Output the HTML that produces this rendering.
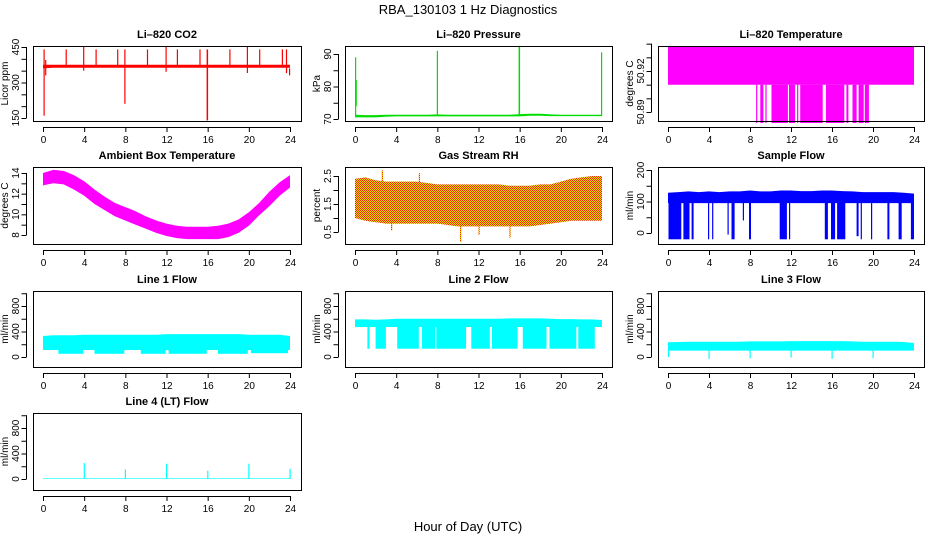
<!DOCTYPE html>
<html><head><meta charset="utf-8"><style>
body{margin:0;background:#fff;}
svg{display:block;font-family:"Liberation Sans",sans-serif;}
</style></head><body>
<svg id="c" width="936" height="540" viewBox="0 0 936 540" xmlns="http://www.w3.org/2000/svg">
<defs>
<pattern id="rh" width="2" height="2" patternUnits="userSpaceOnUse"><rect width="2" height="2" fill="#ffd800"/><rect width="1" height="1" fill="#e03000"/><rect x="1" y="1" width="1" height="1" fill="#e03000"/></pattern>
</defs>
<text x="468" y="14" font-size="13" text-anchor="middle">RBA_130103  1 Hz Diagnostics</text>
<text x="468" y="531" font-size="13" text-anchor="middle">Hour of Day (UTC)</text>
</svg>
<script>
const xTicks=[0,4,8,12,16,20,24];
// envelope arrays (hourly, 0..24): lower and upper
const co2Lo=[360,362,362,362,362,362,362,362,362,362,362,362,362,362,362,362,362,362,362,362,362,362,362,362,362];
const co2Hi=[375,375,375,375,375,375,375,375,375,375,375,375,375,375,375,375,375,375,375,375,375,375,375,375,375];
const co2Spikes=[[0.05,0.1,160,440],[0.2,0.25,330,395],[2.2,2.3,370,440],[3.9,4.0,350,450],[5.1,5.2,370,440],[7.2,7.3,370,440],[7.9,8.0,210,440],[10.1,10.2,370,440],[11.9,12.0,345,450],[13.0,13.1,370,440],[15.2,15.3,370,440],[15.9,16.05,140,440],[18.1,18.2,370,440],[19.8,19.9,340,450],[21.0,21.1,370,440],[23.2,23.3,370,440],[23.6,23.7,340,440],[23.9,24,330,360]];
const presLo=[70.5,70.5,70.5,70.7,70.8,70.8,70.8,70.8,70.8,70.8,70.8,70.8,70.8,70.8,70.8,70.8,70.8,71,71,70.9,70.9,70.9,70.9,70.9,70.9];
const presHi=[71.3,71.2,71.2,71.3,71.3,71.3,71.3,71.3,71.4,71.3,71.3,71.3,71.3,71.3,71.3,71.3,71.5,71.6,71.6,71.4,71.3,71.3,71.3,71.3,71.3];
const presSpikes=[[0,0.06,71,89],[0.06,0.1,74,82],[7.95,8.05,71,91],[15.9,16.05,71,92.5],[23.9,24,71,90.5]];
const tempLo=Array(25).fill(50.91);
const tempHi=Array(25).fill(50.938);
const tempSpikes=[[8.6,8.7,50.882,50.91],[9.0,9.3,50.882,50.91],[9.5,9.6,50.882,50.91],[10.1,11.7,50.882,50.91],[11.8,12.4,50.882,50.91],[12.6,12.7,50.882,50.91],[12.9,15.1,50.882,50.91],[15.4,17.2,50.882,50.91],[17.4,17.6,50.882,50.91],[18.0,18.4,50.882,50.91],[18.6,19.1,50.882,50.91],[19.2,19.6,50.882,50.91]];
const ambLo=[12.8,13.0,12.9,12.4,11.8,11.0,10.4,9.8,9.4,9.0,8.6,8.2,7.9,7.7,7.6,7.6,7.6,7.6,7.8,8.2,8.9,9.9,10.8,11.8,12.6];
const ambHi=[14.0,14.3,14.2,13.8,13.2,12.4,11.7,11.1,10.7,10.3,9.8,9.4,9.1,8.9,8.8,8.8,8.8,8.9,9.1,9.5,10.2,11.1,12.2,13.1,13.8];
const ambSpikes=[];
const rhLo=[1.0,0.9,0.85,0.8,0.8,0.8,0.8,0.8,0.8,0.75,0.7,0.7,0.7,0.7,0.7,0.7,0.7,0.7,0.75,0.8,0.85,0.9,0.9,0.9,0.9];
const rhHi=[2.4,2.45,2.35,2.3,2.3,2.3,2.3,2.25,2.2,2.2,2.2,2.2,2.2,2.2,2.2,2.15,2.15,2.15,2.2,2.2,2.3,2.4,2.45,2.5,2.5];
const rhSpikes=[[2.6,2.65,1.0,2.7],[6.2,6.25,1.0,2.6],[10.2,10.25,0.15,1.0],[12.0,12.1,0.4,1.0],[15.0,15.1,0.3,1.0],[3.5,3.6,0.55,1.0]];
const sfLo=Array(25).fill(95);
const sfHi=[128,130,132,130,132,130,132,132,135,132,132,135,135,133,133,135,135,133,132,130,130,130,130,128,125];
const sfSpikes=[[0.05,1.3,-20,100],[1.5,2.1,-20,100],[2.3,2.5,-20,100],[3.9,4.0,-20,100],[4.3,4.4,-20,100],[5.8,5.9,-5,100],[6.2,6.5,-20,100],[7.3,7.4,40,100],[7.9,8.1,-20,100],[10.9,11.6,-20,100],[11.8,11.9,-20,100],[15.3,15.6,-20,100],[15.9,16.3,-20,100],[16.5,17.3,-20,100],[18.4,18.6,-10,100],[18.8,18.9,-20,100],[19.8,19.9,-20,100],[21.4,21.6,-20,100],[22.5,22.8,-20,100],[23.7,24.0,-20,100]];
const l1Lo=Array(25).fill(110);
const l1Hi=[330,340,340,340,350,350,350,350,350,350,350,350,360,360,360,360,360,360,360,360,350,350,350,350,330];
const l1Spikes=[[1.5,3.9,50,110],[5.0,7.9,50,110],[9.5,11.9,50,110],[12.2,15.9,50,110],[17.0,19.9,50,110],[20.2,23.8,60,110]];
const l2Lo=Array(25).fill(470);
const l2Hi=[590,590,585,590,600,600,600,600,600,600,600,600,600,600,600,605,605,605,605,600,595,595,590,590,580];
const l2Spikes=[[1.2,1.4,130,470],[2.0,3.0,130,470],[4.1,6.2,130,470],[6.5,7.8,130,470],[7.9,10.8,130,470],[11.3,13.1,130,470],[13.3,15.8,130,470],[16.3,18.6,130,470],[18.9,21.5,130,470],[21.7,23.3,130,470]];
const l3Lo=Array(25).fill(100);
const l3Hi=[230,235,240,240,240,240,240,240,245,245,245,245,250,250,250,250,250,250,245,240,240,240,240,235,220];
const l3Spikes=[[0,0.05,0,130],[3.95,4.05,-30,100],[7.95,8.05,-20,100],[11.95,12.05,-10,100],[15.95,16.05,-30,100],[19.95,20.05,-20,100]];
const l4Lo=Array(25).fill(0);
const l4Hi=Array(25).fill(10);
const l4Spikes=[[3.95,4.05,0,250],[7.95,8.05,0,150],[11.95,12.05,0,240],[15.95,16.05,0,130],[19.95,20.05,0,240],[23.95,24,0,160]];

const svg=document.getElementById('c');
const NS='http://www.w3.org/2000/svg';
function mk(t,a,p){const e=document.createElementNS(NS,t);for(const k in a)e.setAttribute(k,a[k]);(p||svg).appendChild(e);return e;}
const cols=[[33,301,43,290],[345,612,355,602],[658,924,668,914]];
const rows=[[46,121],[167,244],[291,367],[413,490]];
const panels=[
 {name:'li820-co2',title:'Li\u2013820 CO2',yl:'Licor ppm',c:0,r:0,v1:450,p1:47,v2:150,p2:118,ticks:[150,200,250,300,350,400,450],labs:['150','300','450'],lo:co2Lo,hi:co2Hi,sp:co2Spikes,col:'#ff0000'},
 {name:'li820-pressure',title:'Li\u2013820 Pressure',yl:'kPa',c:1,r:0,v1:90,p1:54,v2:70,p2:119,ticks:[70,75,80,85,90],labs:['70','80','90'],lo:presLo,hi:presHi,sp:presSpikes,col:'#00dd00'},
 {name:'li820-temperature',title:'Li\u2013820 Temperature',yl:'degrees C',c:2,r:0,v1:50.92,p1:71,v2:50.89,p2:112,ticks:[50.89,50.90,50.91,50.92,50.93,50.94],labs:['50.89','50.92'],lo:tempLo,hi:tempHi,sp:tempSpikes,col:'#ff00ff'},
 {name:'ambient-box-temperature',title:'Ambient Box Temperature',yl:'degrees C',c:0,r:1,v1:14,p1:173,v2:8,p2:235,ticks:[8,9,10,11,12,13,14],labs:['8','10','12','14'],lo:ambLo,hi:ambHi,sp:ambSpikes,col:'#ff00ff'},
 {name:'gas-stream-rh',title:'Gas Stream RH',yl:'percent',c:1,r:1,v1:2.5,p1:176,v2:0.5,p2:232,ticks:[0.5,1,1.5,2,2.5],labs:['0.5','1.5','2.5'],lo:rhLo,hi:rhHi,sp:rhSpikes,col:'url(#rh)'},
 {name:'sample-flow',title:'Sample Flow',yl:'ml/min',c:2,r:1,v1:200,p1:170,v2:0,p2:233,ticks:[0,50,100,150,200],labs:['0','100','200'],lo:sfLo,hi:sfHi,sp:sfSpikes,col:'#0000ff'},
 {name:'line1-flow',title:'Line 1 Flow',yl:'ml/min',c:0,r:2,v1:800,p1:306,v2:0,p2:357,ticks:[0,200,400,600,800,1000],labs:['0','400','800'],lo:l1Lo,hi:l1Hi,sp:l1Spikes,col:'#00ffff'},
 {name:'line2-flow',title:'Line 2 Flow',yl:'ml/min',c:1,r:2,v1:800,p1:306,v2:0,p2:357,ticks:[0,200,400,600,800,1000],labs:['0','400','800'],lo:l2Lo,hi:l2Hi,sp:l2Spikes,col:'#00ffff'},
 {name:'line3-flow',title:'Line 3 Flow',yl:'ml/min',c:2,r:2,v1:800,p1:306,v2:0,p2:357,ticks:[0,200,400,600,800,1000],labs:['0','400','800'],lo:l3Lo,hi:l3Hi,sp:l3Spikes,col:'#00ffff'},
 {name:'line4-flow',title:'Line 4 (LT) Flow',yl:'ml/min',c:0,r:3,v1:800,p1:428,v2:0,p2:479,ticks:[0,200,400,600,800,1000],labs:['0','400','800'],lo:l4Lo,hi:l4Hi,sp:l4Spikes,col:'#00ffff'}
];
panels.forEach(P=>{
 const [bl,br,x0,x24]=cols[P.c],[bt,bb]=rows[P.r];
 const g=mk('g',{});
 
 
 const X=h=>x0+(x24-x0)*h/24;
 const Y=v=>P.p1+(P.p2-P.p1)*(v-P.v1)/(P.v2-P.v1);
 const cg=mk('g',{},g);
 let d='';
 for(let i=0;i<P.hi.length;i++)d+=(i?'L':'M')+X(i).toFixed(1)+','+Y(P.hi[i]).toFixed(1);
 for(let i=P.lo.length-1;i>=0;i--)d+='L'+X(i).toFixed(1)+','+Y(P.lo[i]).toFixed(1);
 const band=mk('path',{d:d+'Z',fill:P.col},cg);
 
 
 P.sp.forEach(s=>{
  const a=X(s[0]),b=X(s[1]);const w=Math.max(1.2,b-a);
  const r=mk('rect',{x:a.toFixed(1),y:Y(s[3]).toFixed(1),width:w.toFixed(1),height:Math.max(1,Y(s[2])-Y(s[3])).toFixed(1),fill:P.col},cg);
  
  
 });
 const box=mk('rect',{x:bl+.5,y:bt+.5,width:br-bl,height:bb-bt,fill:'none',stroke:'#000','stroke-width':1},g);
 
 
 const t=mk('text',{x:(bl+br)/2,y:bt-8,'font-size':11,'font-weight':'bold','text-anchor':'middle'},g);
 t.textContent=P.title;
 
 
 // x axis
 mk('line',{x1:X(0),x2:X(24),y1:bb+6.5,y2:bb+6.5,stroke:'#000'},g);
 xTicks.forEach(h=>{
  mk('line',{x1:X(h)+.5,x2:X(h)+.5,y1:bb+6,y2:bb+11,stroke:'#000'},g);
  const l=mk('text',{x:X(h)+.5,y:bb+22,'font-size':10,'text-anchor':'middle'},g);
  l.textContent=h;
  
  
 });
 // y axis
 const ya=bl-6.5;
 mk('line',{x1:ya,x2:ya,y1:Y(P.ticks[0]),y2:Y(P.ticks[P.ticks.length-1]),stroke:'#000'},g);
 P.ticks.forEach(v=>{mk('line',{x1:ya-5,x2:ya,y1:Y(v)+.5,y2:Y(v)+.5,stroke:'#000'},g);});
 P.labs.forEach(s=>{
  const yy=Y(parseFloat(s));
  const l=mk('text',{x:0,y:0,'font-size':10,'text-anchor':'middle',transform:`translate(${bl-14},${yy}) rotate(-90)`},g);
  l.textContent=s;
  
  
 });
 const yt=mk('text',{x:0,y:0,'font-size':10,'text-anchor':'middle',transform:`translate(${bl-25},${(bt+bb)/2}) rotate(-90)`},g);
 yt.textContent=P.yl;
 
 
});
</script>
</body></html>
